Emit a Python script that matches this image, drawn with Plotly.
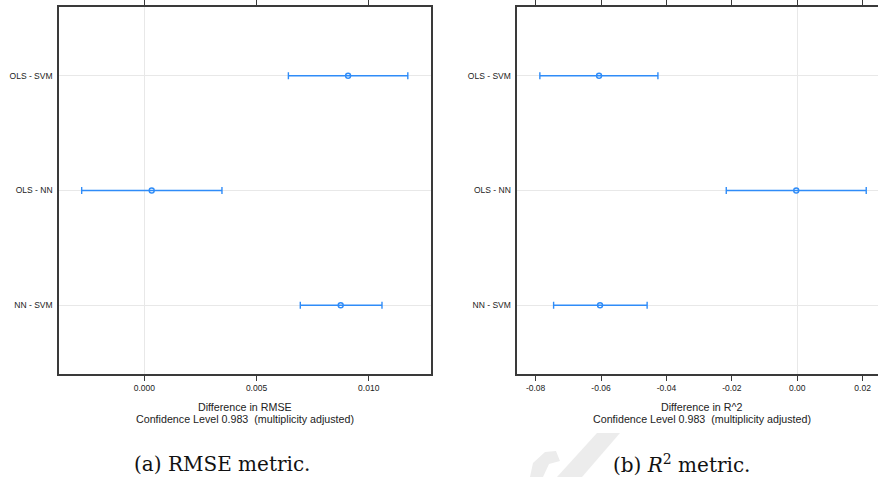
import plotly.graph_objects as go

# Pairwise model comparisons (simultaneous confidence intervals)
comparisons = ["OLS - SVM", "OLS - NN", "NN - SVM"]

rmse_est = [0.00908, 0.00033, 0.00875]
rmse_lwr = [0.00642, -0.00279, 0.00695]
rmse_upr = [0.01174, 0.00346, 0.01059]

r2_est = [-0.0606, -0.0003, -0.0603]
r2_lwr = [-0.0787, -0.0217, -0.0745]
r2_upr = [-0.0426, 0.0211, -0.0459]

rmse_ticks = [0.0, 0.005, 0.010]
r2_ticks = [-0.08, -0.06, -0.04, -0.02, 0.0, 0.02]

W, H = 878, 477
BLUE = "#2f8cf8"
FRAME = "#3a3a3a"
GRID = "#e8e8e8"
SANS = "Liberation Sans, Arial, sans-serif"
SERIF = "DejaVu Serif, serif"


def px(x):
    return x / W


def py(y):
    return 1 - y / H


def interval_trace(est, lwr, upr, xa, ya):
    plus = [u - e for u, e in zip(upr, est)]
    minus = [e - l for e, l in zip(est, lwr)]
    return go.Scatter(
        x=est, y=comparisons, mode="markers",
        marker=dict(symbol="circle-open", size=5, color=BLUE,
                    line=dict(width=1.4, color=BLUE)),
        error_x=dict(type="data", array=plus, arrayminus=minus,
                     color=BLUE, thickness=1.4, width=3.5),
        xaxis=xa, yaxis=ya, showlegend=False, hoverinfo="skip",
    )


fig = go.Figure()
fig.add_trace(interval_trace(rmse_est, rmse_lwr, rmse_upr, "x", "y"))
fig.add_trace(interval_trace(r2_est, r2_lwr, r2_upr, "x2", "y2"))

y_top, y_bot = 7, 374
xaxis_common = dict(
    showgrid=False, zeroline=True, zerolinecolor=GRID, zerolinewidth=1,
    showline=True, linecolor=FRAME, linewidth=1.5, mirror="allticks",
    ticks="outside", ticklen=5, tickwidth=1.2, tickcolor=FRAME,
    tickfont=dict(family=SANS, size=8.5, color="#222"),
)
yaxis_common = dict(
    type="category", categoryorder="array",
    categoryarray=comparisons[::-1], range=[-0.6, 2.6],
    showgrid=True, gridcolor=GRID, gridwidth=1, zeroline=False,
    showline=True, linecolor=FRAME, linewidth=1.5,
    ticks="", ticklabelstandoff=3,
    tickfont=dict(family=SANS, size=8.5, color="#222"),
)

fig.update_layout(
    width=W, height=H,
    margin=dict(l=0, r=0, t=0, b=0),
    paper_bgcolor="white", plot_bgcolor="white",
    xaxis=dict(domain=[px(59), px(430.7)], range=[-0.0038, 0.01276],
               tickvals=rmse_ticks,
               ticktext=[f"{v:.3f}" for v in rmse_ticks], anchor="y",
               **xaxis_common),
    yaxis=dict(domain=[py(y_bot), py(y_top)], anchor="x", mirror=True,
               **yaxis_common),
    xaxis2=dict(domain=[px(517.3), 1.0], range=[-0.0856, 0.0247],
                tickvals=r2_ticks,
                ticktext=[f"{v:.2f}" for v in r2_ticks], anchor="y2",
                **xaxis_common),
    yaxis2=dict(domain=[py(y_bot), py(y_top)], anchor="x2", mirror=False,
                **yaxis_common),
)

# Axis titles (two lines each)
titles = [
    (244.9, "Difference in RMSE"),
    (702.0, "Difference in R^2"),
]
for cx, label in titles:
    fig.add_annotation(x=px(cx), y=py(406.7), xref="paper", yref="paper",
                       text=label, showarrow=False, xanchor="center",
                       yanchor="middle",
                       font=dict(family=SANS, size=10.7, color="#222"))
    fig.add_annotation(x=px(cx), y=py(419.3), xref="paper", yref="paper",
                       text="Confidence Level 0.983  (multiplicity adjusted)",
                       showarrow=False, xanchor="center", yanchor="middle",
                       font=dict(family=SANS, size=10.7, color="#222"))

# Sub-figure captions
captions = [
    (222.0, "(a) RMSE metric."),
    (681.0, "(b) <i>R</i><sup>2</sup> metric."),
]
for cx, label in captions:
    fig.add_annotation(x=px(cx), y=py(464), xref="paper", yref="paper",
                       text=label, showarrow=False, xanchor="center",
                       yanchor="middle",
                       font=dict(family=SERIF, size=20, color="#111"))


# Faint background watermark stroke
def path(points):
    d = "M " + " L ".join(f"{px(x):.5f},{py(y):.5f}" for x, y in points) + " Z"
    return d


fig.add_shape(type="path", xref="paper", yref="paper", layer="below",
              path=path([(597, 433), (620, 433), (582, 477), (557, 477)]),
              fillcolor="#ececec", line=dict(width=0))
fig.add_shape(type="path", xref="paper", yref="paper", layer="below",
              path=path([(530, 477), (533, 463), (545, 452), (556, 451),
                         (560, 461), (549, 464), (543, 477)]),
              fillcolor="#ececec", line=dict(width=0))

fig.write_html("out.html")
